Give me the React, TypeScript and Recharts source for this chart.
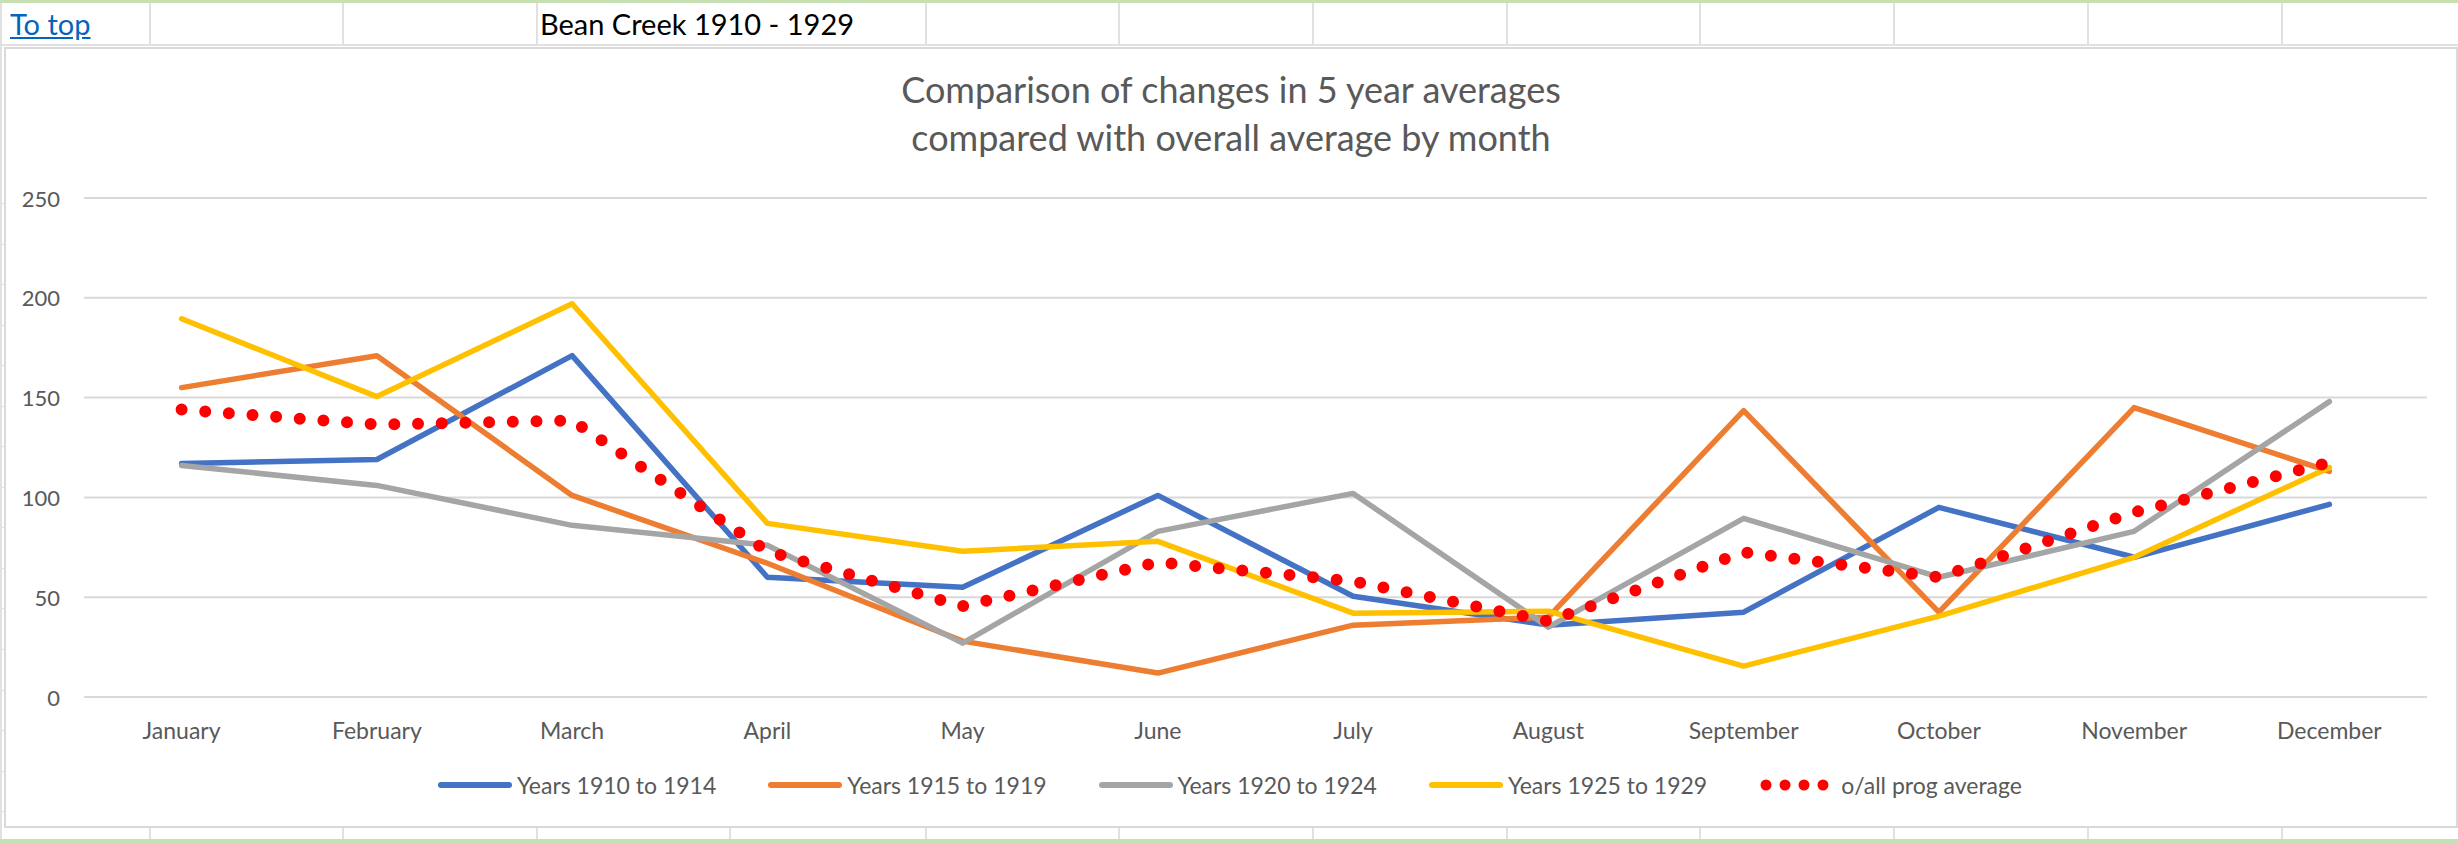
import React from 'react'
import { CartesianGrid, Line, LineChart, XAxis, YAxis } from 'recharts'

const months = [
  'January',
  'February',
  'March',
  'April',
  'May',
  'June',
  'July',
  'August',
  'September',
  'October',
  'November',
  'December',
]

const years1910to1914 = [117, 119, 171, 60, 55, 101, 50.5, 36, 42.5, 95, 70, 96.5]
const years1915to1919 = [155, 171, 101, 67, 28, 12, 36, 40, 143.5, 42.5, 145, 113]
const years1920to1924 = [116, 106, 86, 76, 27, 83, 102, 35, 89.5, 60, 83, 148]
const years1925to1929 = [189.5, 150.5, 197, 87, 73, 78, 42, 43, 15.5, 40.5, 70, 115]
const overallAverage = [144, 136.5, 138.5, 73, 45.5, 67.5, 58, 38, 72.5, 60, 92.5, 117.5]

const yTicks = [0, 50, 100, 150, 200, 250]

const series = [
  { key: 'y1910', name: 'Years 1910 to 1914', color: '#4472C4', values: years1910to1914 },
  { key: 'y1915', name: 'Years 1915 to 1919', color: '#ED7D31', values: years1915to1919 },
  { key: 'y1920', name: 'Years 1920 to 1924', color: '#A5A5A5', values: years1920to1924 },
  { key: 'y1925', name: 'Years 1925 to 1929', color: '#FFC000', values: years1925to1929 },
]
const averageSeries = { key: 'avg', name: 'o/all prog average', color: '#FF0000', values: overallAverage }

const data = months.map((month, i) => {
  const row: Record<string, string | number> = { month }
  for (const s of series) row[s.key] = s.values[i]
  row[averageSeries.key] = averageSeries.values[i]
  return row
})

const FONT = 'Lato, "Open Sans", sans-serif'
const TEXT = '#595959'
const GRID = '#D9D9D9'
const CELL = '#E1E1E1'

// column borders of the sheet behind the chart
const headerCols = [149, 342, 536, 925, 1118, 1312, 1506, 1699, 1893, 2087, 2281]
const footerCols = [149, 342, 536, 729, 925, 1118, 1312, 1506, 1699, 1893, 2087, 2281]
const rowMarks = [203, 244, 284, 325, 365, 406, 446, 487, 527, 568, 608, 649, 690, 730, 771, 811]

function XTick(props: any) {
  const { x, y, payload } = props
  return (
    <text
      x={x}
      y={y + 25}
      textAnchor="middle"
      dominantBaseline="central"
      fontFamily={FONT}
      fontSize={23}
      fill={TEXT}
    >
      {payload.value}
    </text>
  )
}

function YTick(props: any) {
  const { x, y, payload } = props
  return (
    <text
      x={x - 16}
      y={y}
      textAnchor="end"
      dominantBaseline="central"
      fontFamily={FONT}
      fontSize={22}
      fill={TEXT}
    >
      {payload.value}
    </text>
  )
}

function LegendRow() {
  return (
    <div
      style={{
        position: 'absolute',
        top: 768,
        left: 438,
        display: 'flex',
        alignItems: 'center',
        gap: 52,
        fontFamily: FONT,
        fontSize: 23,
        color: TEXT,
        whiteSpace: 'nowrap',
      }}
    >
      {series.map((s) => (
        <div key={s.key} style={{ display: 'flex', alignItems: 'center', gap: 5 }}>
          <svg width={74} height={34}>
            <line x1={3} y1={17} x2={71} y2={17} stroke={s.color} strokeWidth={6} strokeLinecap="round" />
          </svg>
          <span>{s.name}</span>
        </div>
      ))}
      <div style={{ display: 'flex', alignItems: 'center', gap: 10 }}>
        <svg width={72} height={34}>
          {[0, 1, 2, 3].map((i) => (
            <circle key={i} cx={7 + i * 19} cy={17} r={5.5} fill={averageSeries.color} />
          ))}
        </svg>
        <span>{averageSeries.name}</span>
      </div>
    </div>
  )
}

export default function App() {
  return (
    <div
      style={{
        position: 'absolute',
        left: 0,
        top: 0,
        width: 2458,
        height: 843,
        background: '#fff',
        overflow: 'hidden',
        fontFamily: FONT,
      }}
    >
      {/* sheet header row */}
      <div style={{ position: 'absolute', left: 0, top: 0, width: 2458, height: 3, background: '#C6E0B4' }} />
      <div style={{ position: 'absolute', left: 0, top: 44, width: 2458, height: 2, background: CELL }} />
      {headerCols.map((x) => (
        <div key={'h' + x} style={{ position: 'absolute', left: x, top: 3, width: 2, height: 41, background: CELL }} />
      ))}
      <a
        href="#top"
        style={{
          position: 'absolute',
          left: 10,
          top: 6,
          fontSize: 29,
          lineHeight: '36px',
          color: '#0563C1',
          textDecoration: 'underline',
        }}
      >
        To top
      </a>
      <div style={{ position: 'absolute', left: 540, top: 6, fontSize: 29, lineHeight: '36px', color: '#000' }}>
        Bean Creek 1910 - 1929
      </div>

      {/* sheet footer */}
      {footerCols.map((x) => (
        <div key={'f' + x} style={{ position: 'absolute', left: x, top: 828, width: 2, height: 12, background: CELL }} />
      ))}
      <div style={{ position: 'absolute', left: 0, top: 839, width: 2458, height: 4, background: '#C6E0B4' }} />
      {rowMarks.map((y) => (
        <div key={'r' + y} style={{ position: 'absolute', left: 0, top: y, width: 5, height: 1, background: CELL }} />
      ))}
      <div style={{ position: 'absolute', left: 0, top: 3, width: 2, height: 836, background: CELL }} />

      {/* chart frame */}
      <div
        style={{
          position: 'absolute',
          left: 4,
          top: 47,
          width: 2450,
          height: 777,
          border: `2px solid ${GRID}`,
          background: '#fff',
        }}
      />

      <div
        style={{
          position: 'absolute',
          left: 0,
          top: 65,
          width: 2462,
          textAlign: 'center',
          fontSize: 36,
          lineHeight: '48px',
          color: TEXT,
        }}
      >
        Comparison of changes in 5 year averages
        <br />
        compared with overall average by month
      </div>

      <div style={{ position: 'absolute', left: 0, top: 0 }}>
        <LineChart width={2458} height={843} data={data} margin={{ top: 198, right: 31, bottom: 116, left: 0 }}>
          <CartesianGrid vertical={false} stroke={GRID} strokeWidth={2} />
          <XAxis
            dataKey="month"
            height={30}
            interval={0}
            tickLine={false}
            axisLine={{ stroke: GRID, strokeWidth: 2 }}
            padding={{ left: 97.6, right: 97.6 }}
            tick={<XTick />}
          />
          <YAxis
            width={84}
            domain={[0, 250]}
            ticks={yTicks}
            axisLine={false}
            tickLine={false}
            tick={<YTick />}
          />
          {series.map((s) => (
            <Line
              key={s.key}
              type="linear"
              dataKey={s.key}
              name={s.name}
              stroke={s.color}
              strokeWidth={5.5}
              strokeLinecap="round"
              strokeLinejoin="round"
              dot={false}
              activeDot={false}
              isAnimationActive={false}
            />
          ))}
          <Line
            type="linear"
            dataKey={averageSeries.key}
            name={averageSeries.name}
            stroke={averageSeries.color}
            strokeWidth={12}
            strokeDasharray="0 23.7"
            strokeLinecap="round"
            dot={false}
            activeDot={false}
            isAnimationActive={false}
          />
        </LineChart>
      </div>

      <LegendRow />
    </div>
  )
}
